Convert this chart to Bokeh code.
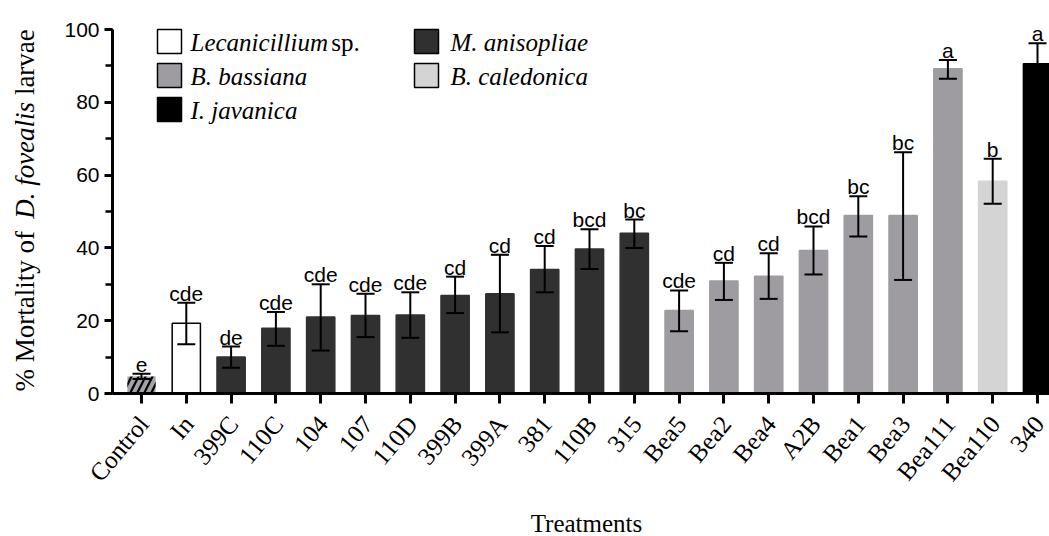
import math
from bokeh.plotting import figure
from bokeh.models import (ColumnDataSource, Range1d, FixedTicker, SingleIntervalTicker,
                          Whisker, TeeHead, LabelSet, Label, BoxAnnotation, LinearAxis)
from bokeh.core.properties import value
from bokeh.embed import file_html
from bokeh.resources import INLINE

# ---------------- data ----------------
treatments = ["Control", "In", "399C", "110C", "104", "107", "110D", "399B", "399A", "381",
              "110B", "315", "Bea5", "Bea2", "Bea4", "A2B", "Bea1", "Bea3", "Bea111", "Bea110", "340"]
mortality = [4.7, 19.3, 10.0, 17.9, 21.0, 21.4, 21.6, 26.9, 27.4, 34.1,
             39.7, 44.0, 22.8, 30.9, 32.2, 39.3, 48.9, 48.9, 89.2, 58.3, 90.6]
err_upper = [5.4, 24.9, 12.9, 22.4, 30.0, 27.4, 27.8, 32.1, 38.1, 40.5,
             45.1, 47.8, 28.3, 35.9, 38.5, 45.9, 54.2, 66.3, 91.6, 64.5, 96.2]
err_lower = [4.0, 13.5, 7.1, 13.1, 11.8, 15.5, 15.3, 22.1, 16.8, 27.8,
             34.2, 40.0, 17.1, 25.7, 26.0, 32.7, 43.1, 31.2, 86.5, 52.1, 85.0]
letters = ["e", "cde", "de", "cde", "cde", "cde", "cde", "cd", "cd", "cd",
           "bcd", "bc", "cde", "cd", "cd", "bcd", "bc", "bc", "a", "b", "a"]
group = ["Control", "Lecanicillium", "M", "M", "M", "M", "M", "M", "M", "M",
         "M", "M", "Bb", "Bb", "Bb", "Bb", "Bb", "Bb", "Bb", "Bc", "Ij"]

group_colors = {"Control": "#a3a2a6", "Lecanicillium": "#ffffff", "M": "#303030",
                "Bb": "#9e9ca1", "Bc": "#d4d4d4", "Ij": "#000000"}
legend_entries = [  # (group, italic part, roman part, column, row)
    ("Lecanicillium", "Lecanicillium", "sp.", 0, 0),
    ("Bb", "B. bassiana", "", 0, 1),
    ("Ij", "I. javanica", "", 0, 2),
    ("M", "M. anisopliae", "", 1, 0),
    ("Bc", "B. caledonica", "", 1, 1),
]

SERIF = "Liberation Serif"
SERIF_IT = "serif"

# ---------------- layout (page pixels; the frame fills the whole canvas) ----------------
W, H = 1049, 536
AX_X, AX_Y, TOP_Y = 112, 393, 29      # y-axis x, x-axis y, 100% line y
PPX = 44.8
X_FIRST = 141                         # centre of first bar
PPY = (AX_Y - TOP_Y) / 100.0

def x_of(px):
    return (px - X_FIRST) / PPX

def y_of(py):
    return (AX_Y - py) / PPY

XA0 = x_of(AX_X)

xs = list(range(len(treatments)))
src = ColumnDataSource(dict(
    x=xs, top=mortality, upper=err_upper, lower=err_lower, letter=letters,
    fill=[group_colors[g] for g in group],
    line=["#000000" if g == "Lecanicillium" else group_colors[g] for g in group],
))

p = figure(width=W, height=H, output_backend="svg", toolbar_location=None, title=None,
           x_range=Range1d(x_of(0), x_of(W)), y_range=Range1d(y_of(H), y_of(0)),
           min_border_left=0, min_border_right=0, min_border_top=0, min_border_bottom=0)
p.outline_line_color = None
p.xgrid.visible = False
p.ygrid.visible = False

normal_idx = [i for i in xs if group[i] != "Control"]
src_norm = ColumnDataSource({k: [v[i] for i in normal_idx] for k, v in src.data.items()})
p.vbar(x="x", top="top", width=0.63, source=src_norm, fill_color="fill",
       line_color="line", line_width=1.5)
ctrl_idx = [i for i in xs if group[i] == "Control"]
src_ctrl = ColumnDataSource({k: [v[i] for i in ctrl_idx] for k, v in src.data.items()})
p.vbar(x="x", top="top", width=0.63, source=src_ctrl, fill_color="fill",
       line_color=None, hatch_pattern="/", hatch_color="black", hatch_weight=2.2,
       hatch_scale=14)

wh = Whisker(source=src, base="x", upper="upper", lower="lower", line_width=2,
             line_color="black",
             upper_head=TeeHead(size=18, line_width=2, line_color="black"),
             lower_head=TeeHead(size=18, line_width=2, line_color="black"))
wh.level = "annotation"
p.add_layout(wh)

labels = LabelSet(x="x", y="upper", text="letter", source=src, text_align="center",
                  text_baseline="alphabetic", y_offset=2,
                  text_font=value("Liberation Sans"),
                  text_font_size=value("21px"), text_color="black")
p.add_layout(labels)

# x axis (tick marks) fixed at y = 0
xa = p.xaxis[0]
xa.fixed_location = 0
xa.bounds = (XA0, x_of(W))
xa.ticker = FixedTicker(ticks=xs, minor_ticks=[])
xa.major_label_overrides = {i: "" for i in xs}
xa.major_label_text_font_size = "1px"
xa.major_label_standoff = 0
xa.axis_line_width = 3
xa.major_tick_line_width = 3
xa.major_tick_out = 10
xa.major_tick_in = 0

# second x axis carrying the rotated treatment labels (slightly shifted anchors)
DX = 0.05
label_pos = [i + DX for i in xs]
xb = LinearAxis(ticker=FixedTicker(ticks=label_pos, minor_ticks=[]),
                major_label_overrides={lp: t for lp, t in zip(label_pos, treatments)},
                fixed_location=0, bounds=(XA0, x_of(W)))
xb.axis_line_color = None
xb.major_tick_line_color = None
xb.major_tick_out = 0
xb.major_tick_in = 0
xb.major_label_orientation = 0.87
xb.major_label_text_font = SERIF
xb.major_label_text_font_size = "25px"
xb.major_label_text_color = "black"
xb.major_label_standoff = 26
p.add_layout(xb, "below")

# y axis fixed at the left edge of the data area
ya = p.yaxis[0]
ya.fixed_location = XA0
ya.bounds = (0, 100)
ya.ticker = SingleIntervalTicker(interval=20, num_minor_ticks=2)
ya.major_label_text_font = "Liberation Sans"
ya.major_label_text_font_size = "21px"
ya.major_label_text_color = "black"
ya.axis_line_width = 3
ya.major_tick_line_width = 3
ya.major_tick_out = 8
ya.major_tick_in = 0
ya.minor_tick_line_width = 2.5
ya.minor_tick_out = 7
ya.minor_tick_in = 0
ya.major_label_standoff = 5

# manual legend
col_sq_left = [157, 414]
col_txt = [190, 450]
row_top = [29, 63, 97]
SQ = 24
LFS = 25
for g, ital, rom, c, r in legend_entries:
    p.add_layout(BoxAnnotation(left=x_of(col_sq_left[c]), right=x_of(col_sq_left[c] + SQ),
                               top=y_of(row_top[r]), bottom=y_of(row_top[r] + SQ),
                               fill_color=group_colors[g], fill_alpha=1.0,
                               line_color="black", line_width=1.5, line_alpha=1.0))
    yc = y_of(row_top[r] + SQ / 2 + 1)
    p.add_layout(Label(x=x_of(col_txt[c]), y=yc, text=ital, text_align="left",
                       text_baseline="middle", text_font=SERIF_IT,
                       text_font_style="italic", text_font_size=f"{LFS}px", text_color="black"))
    if rom:
        p.add_layout(Label(x=x_of(col_txt[c] + 5.38 * LFS + 0.25 * LFS), y=yc, text=rom,
                           text_align="left", text_baseline="middle",
                           text_font=SERIF, text_font_style="normal",
                           text_font_size=f"{LFS}px", text_color="black"))

# y title with mixed styles (rotated)
FS = 27
segs = [("% Mortality of ", SERIF, "normal", 6.394), ("D. fovealis", SERIF_IT, "italic", 4.333),
        (" larvae", SERIF, "normal", 2.693)]
cy = 391.0
for txt, fnt, style, em in segs:
    t = txt.strip()
    lead = 0.25 * FS if txt.startswith(" ") else 0.0
    cy -= lead
    p.text(x=[x_of(24)], y=[y_of(cy)], text=[t], angle=math.pi / 2,
           text_align=value("left"), text_baseline=value("middle"), text_font=value(fnt),
           text_font_style=value(style), text_font_size=value(f"{FS}px"),
           text_color="black")
    cy -= (em * FS - lead)

# x title
p.text(x=[x_of(586)], y=[y_of(523)], text=["Treatments"], text_align=value("center"),
       text_baseline=value("middle"), text_font=value(SERIF),
       text_font_size=value("25px"), text_color="black")

open("out.html", "w").write(file_html(p, INLINE))
